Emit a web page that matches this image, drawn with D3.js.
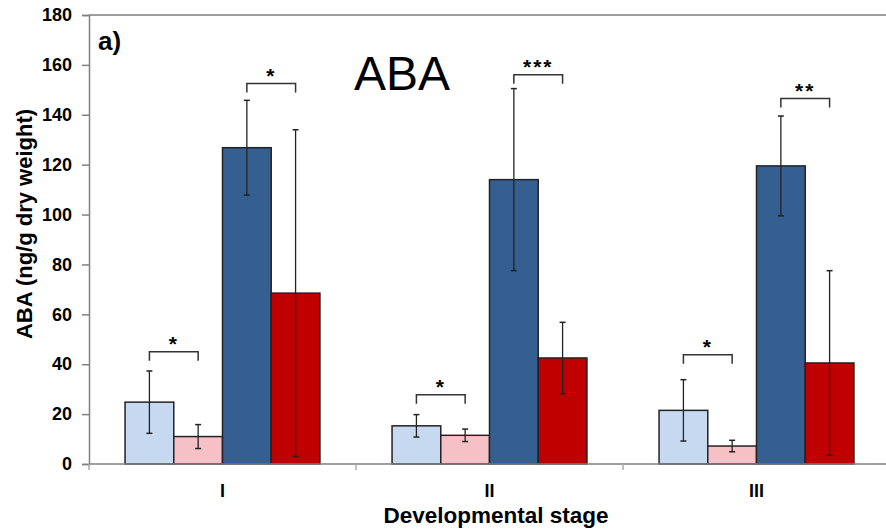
<!DOCTYPE html>
<html>
<head>
<meta charset="utf-8">
<script src="https://d3js.org/d3.v7.min.js"></script>
<style>
  body { margin: 0; background: #fff; }
  text { font-family: "Liberation Sans", Arial, sans-serif; }
</style>
</head>
<body>
<div id="chart"></div>
<script>
  // stages on the x axis
  const stages = ["I", "II", "III"];
  // four bar series, in drawing order
  const seriesNames = ["lightBlue", "pink", "darkBlue", "red"];
  const seriesColors = ["#c6d9f1", "#f6c1c6", "#355f91", "#c00000"];
  // mean values per stage
  const lightBlue = [24.8, 15.3, 21.5];
  const pink = [11.0, 11.5, 7.2];
  const darkBlue = [126.8, 114.0, 119.5];
  const red = [68.5, 42.5, 40.5];
  // error (+/-) per stage
  const lightBlueErr = [12.5, 4.5, 12.3];
  const pinkErr = [4.8, 2.5, 2.3];
  const darkBlueErr = [19.0, 36.5, 20.0];
  const redErr = [65.5, 14.3, 37.0];
  // y ticks
  const yTicks = [0, 20, 40, 60, 80, 100, 120, 140, 160, 180];
  // significance brackets: stage, first and second series index, level, label
  const brackets = [
    { stage: "I", a: 0, b: 1, y: 45, label: "*" },
    { stage: "I", a: 2, b: 3, y: 152.5, label: "*" },
    { stage: "II", a: 0, b: 1, y: 27.8, label: "*" },
    { stage: "II", a: 2, b: 3, y: 156, label: "***" },
    { stage: "III", a: 0, b: 1, y: 43.8, label: "*" },
    { stage: "III", a: 2, b: 3, y: 146.5, label: "**" }
  ];

  const allValues = [lightBlue, pink, darkBlue, red];
  const allErrors = [lightBlueErr, pinkErr, darkBlueErr, redErr];

  const data = [];
  stages.forEach((s, i) => {
    seriesNames.forEach((n, j) => {
      data.push({ stage: s, series: n, idx: j, value: allValues[j][i], err: allErrors[j][i] });
    });
  });

  const W = 886, H = 532;
  const plotLeft = 89, plotRight = 890, plotTop = 15, plotBottom = 464;

  const svg = d3.select("#chart").append("svg")
    .attr("width", W).attr("height", H);

  const x = d3.scaleBand().domain(stages).range([plotLeft, plotRight]).padding(0);
  const x1 = d3.scaleBand().domain(seriesNames).range([0, x.bandwidth()])
    .paddingInner(0).paddingOuter(0.74);
  const y = d3.scaleLinear().domain([0, 180]).range([plotBottom, plotTop]);

  // top frame line
  svg.append("line")
    .attr("x1", plotLeft).attr("x2", W).attr("y1", y(180)).attr("y2", y(180))
    .attr("stroke", "#808080").attr("stroke-width", 1.5);

  // y axis
  const yAxis = svg.append("g")
    .attr("transform", `translate(${plotLeft},0)`)
    .call(d3.axisLeft(y).tickValues(yTicks).tickSize(7).tickPadding(10));
  yAxis.select(".domain").attr("stroke", "#808080").attr("stroke-width", 1.5);
  yAxis.selectAll(".tick line").attr("stroke", "#808080").attr("stroke-width", 1.5);
  yAxis.selectAll(".tick text")
    .attr("font-size", 18).attr("font-weight", "bold").attr("fill", "#000")
    .style("font-family", "'Liberation Sans', Arial, sans-serif");

  // bars
  svg.selectAll("rect.bar")
    .data(data)
    .join("rect")
      .attr("class", "bar")
      .attr("x", d => x(d.stage) + x1(d.series))
      .attr("y", d => y(d.value))
      .attr("width", x1.bandwidth())
      .attr("height", d => y(0) - y(d.value))
      .attr("fill", d => seriesColors[d.idx])
      .attr("stroke", "#222")
      .attr("stroke-width", 1.5);

  // x axis line and ticks between stages
  svg.append("line")
    .attr("x1", plotLeft).attr("x2", W).attr("y1", y(0)).attr("y2", y(0))
    .attr("stroke", "#808080").attr("stroke-width", 1.5);
  svg.selectAll("line.xtick")
    .data(stages)
    .join("line")
      .attr("class", "xtick")
      .attr("x1", d => x(d)).attr("x2", d => x(d))
      .attr("y1", y(0)).attr("y2", y(0) + 6)
      .attr("stroke", "#aaa").attr("stroke-width", 1.5);
  svg.selectAll("text.xlab")
    .data(stages)
    .join("text")
      .attr("class", "xlab")
      .attr("x", d => x(d) + x.bandwidth() / 2)
      .attr("y", 497)
      .attr("text-anchor", "middle")
      .attr("font-size", 18).attr("font-weight", "bold")
      .text(d => d);

  // error bars
  const eb = svg.selectAll("g.err")
    .data(data)
    .join("g")
      .attr("class", "err")
      .attr("transform", d => `translate(${x(d.stage) + x1(d.series) + x1.bandwidth() / 2},0)`);
  eb.append("line")
    .attr("y1", d => y(d.value - d.err)).attr("y2", d => y(d.value + d.err))
    .attr("stroke", "#222").attr("stroke-width", 1.3);
  eb.append("line")
    .attr("x1", -3).attr("x2", 3)
    .attr("y1", d => y(d.value + d.err)).attr("y2", d => y(d.value + d.err))
    .attr("stroke", "#222").attr("stroke-width", 1.5);
  eb.append("line")
    .attr("x1", -3).attr("x2", 3)
    .attr("y1", d => y(d.value - d.err)).attr("y2", d => y(d.value - d.err))
    .attr("stroke", "#222").attr("stroke-width", 1.5);

  // significance brackets
  const bg = svg.selectAll("g.sig")
    .data(brackets)
    .join("g")
      .attr("class", "sig");
  bg.append("path")
    .attr("d", d => {
      const xa = x(d.stage) + x1(seriesNames[d.a]) + x1.bandwidth() / 2;
      const xb = x(d.stage) + x1(seriesNames[d.b]) + x1.bandwidth() / 2;
      const yy = y(d.y);
      return `M${xa},${yy + 9}V${yy}H${xb}V${yy + 9}`;
    })
    .attr("fill", "none").attr("stroke", "#333").attr("stroke-width", 1.5);
  bg.append("text")
    .attr("x", d => (x(d.stage) + x1(seriesNames[d.a]) + x(d.stage) + x1(seriesNames[d.b]) + x1.bandwidth()) / 2)
    .attr("y", d => y(d.y) - 1)
    .attr("text-anchor", "middle")
    .attr("font-size", 21).attr("font-weight", "bold")
    .attr("letter-spacing", 2)
    .text(d => d.label);

  // panel label and title
  svg.append("text")
    .attr("x", 98).attr("y", 50)
    .attr("font-size", 26).attr("font-weight", "bold")
    .text("a)");
  svg.append("text")
    .attr("x", 402).attr("y", 90)
    .attr("text-anchor", "middle")
    .attr("font-size", 48)
    .text("ABA");

  // axis titles
  svg.append("text")
    .attr("transform", "translate(32,224) rotate(-90)")
    .attr("text-anchor", "middle")
    .attr("font-size", 22).attr("font-weight", "bold")
    .text("ABA (ng/g dry weight)");
  svg.append("text")
    .attr("x", 496).attr("y", 523)
    .attr("text-anchor", "middle")
    .attr("font-size", 22.5).attr("font-weight", "bold")
    .text("Developmental stage");
</script>
</body>
</html>
